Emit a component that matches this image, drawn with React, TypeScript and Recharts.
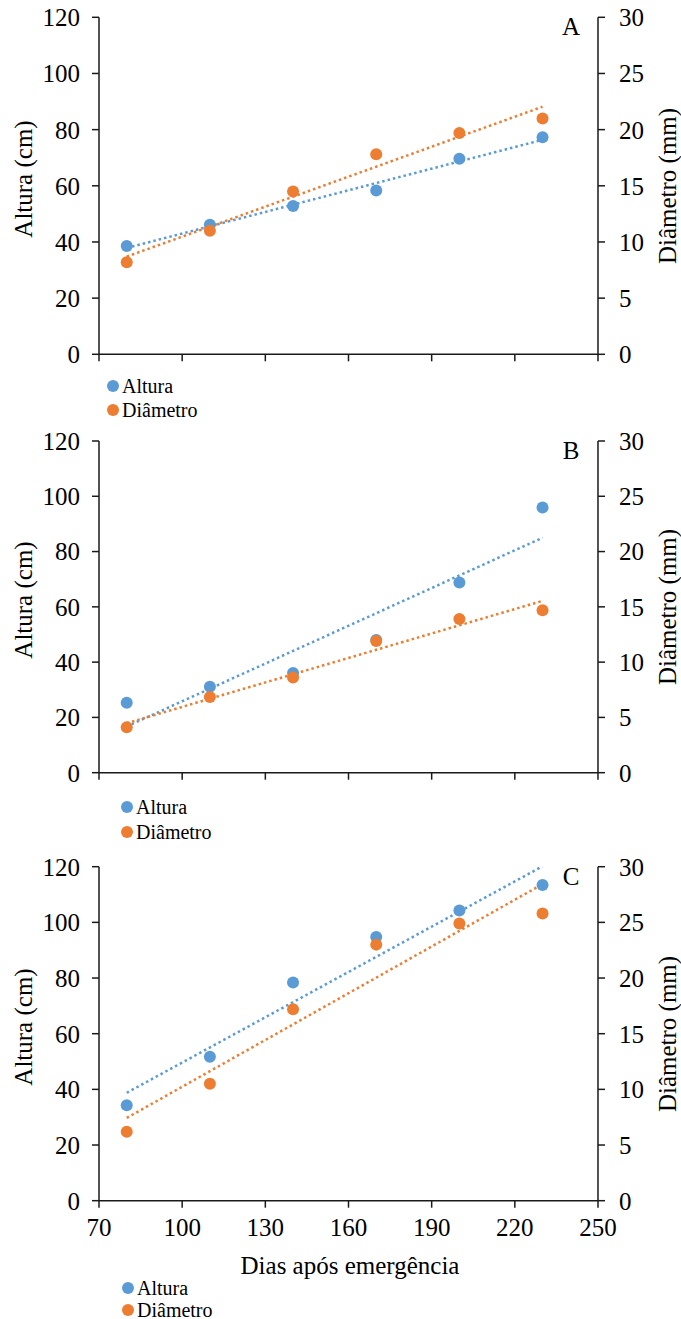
import React from 'react';
import { ScatterChart, Scatter, XAxis, YAxis, ReferenceLine } from 'recharts';

// Dias após emergência (eixo X)
const dias = [80, 110, 140, 170, 200, 230];
const xTicks = [70, 100, 130, 160, 190, 220, 250];
const alturaTicks = [0, 20, 40, 60, 80, 100, 120];
const diametroTicks = [0, 5, 10, 15, 20, 25, 30];

// Altura (cm)
const alturaA = [38.6, 46.1, 52.8, 58.3, 69.6, 77.3];
const alturaB = [25.3, 31.1, 36.1, 48.0, 68.8, 95.9];
const alturaC = [34.3, 51.7, 78.4, 94.7, 104.3, 113.4];

// Diâmetro (mm)
const diametroA = [8.2, 11.0, 14.5, 17.8, 19.7, 21.0];
const diametroB = [4.1, 6.85, 8.6, 11.9, 13.9, 14.7];
const diametroC = [6.2, 10.5, 17.2, 23.0, 24.9, 25.8];

const serif = "'Liberation Serif', 'Times New Roman', serif";
const azul = '#5B9BD5';
const laranja = '#ED7D31';
const eixo = '#1a1a1a';

// linha de tendência linear (mínimos quadrados), como no Excel
function tendencia(xs: number[], ys: number[]) {
  const n = xs.length;
  const mx = xs.reduce((s, v) => s + v, 0) / n;
  const my = ys.reduce((s, v) => s + v, 0) / n;
  let sxy = 0;
  let sxx = 0;
  xs.forEach((x, i) => {
    sxy += (x - mx) * (ys[i] - my);
    sxx += (x - mx) * (x - mx);
  });
  const b = sxy / sxx;
  const a = my - b * mx;
  return [
    { x: xs[0], y: a + b * xs[0] },
    { x: xs[n - 1], y: a + b * xs[n - 1] },
  ];
}

const Bolinha = (cor: string) => (p: any) => <circle cx={p.cx} cy={p.cy} r={6} fill={cor} />;

interface PainelProps {
  letra: string;
  altura: number[];
  diametro: number[];
  top: number;
  plotTop: number;
  plotBottom: number;
  rotulosX: boolean;
  legendaX: number;
  legendaY: number;
  legendaPasso: number;
}

const tickStyle = { fill: '#000', fontSize: 25, fontFamily: serif };

const Painel: React.FC<PainelProps> = ({
  letra,
  altura,
  diametro,
  top,
  plotTop,
  plotBottom,
  rotulosX,
  legendaX,
  legendaY,
  legendaPasso,
}) => {
  const alturaPts = dias.map((dia, i) => ({ dia, altura: altura[i] }));
  const diametroPts = dias.map((dia, i) => ({ dia, diametro: diametro[i] }));
  const xAxisH = 45;
  const height = plotBottom - top + xAxisH;
  const meio = (plotTop + plotBottom) / 2;

  return (
    <>
      <div style={{ position: 'absolute', left: 0, top, width: 681, height, fontFamily: serif }}>
        <ScatterChart
          width={681}
          height={height}
          margin={{ top: plotTop - top, right: 0, bottom: 0, left: 0 }}
        >
          <XAxis
            type="number"
            dataKey="dia"
            domain={[70, 250]}
            ticks={xTicks}
            interval={0}
            allowDataOverflow
            height={xAxisH}
            tickSize={7}
            tickMargin={11}
            stroke={eixo}
            strokeWidth={1.5}
            tick={tickStyle}
            tickFormatter={rotulosX ? undefined : () => ''}
          />
          <YAxis
            yAxisId="alt"
            dataKey="altura"
            type="number"
            domain={[0, 120]}
            ticks={alturaTicks}
            interval={0}
            allowDataOverflow
            width={99}
            tickSize={7}
            tickMargin={12}
            stroke={eixo}
            strokeWidth={1.5}
            tick={tickStyle}
          />
          <YAxis
            yAxisId="diam"
            dataKey="diametro"
            type="number"
            orientation="right"
            domain={[0, 30]}
            ticks={diametroTicks}
            interval={0}
            allowDataOverflow
            width={83}
            tickSize={7}
            tickMargin={14}
            stroke={eixo}
            strokeWidth={1.5}
            tick={tickStyle}
          />
          <Scatter
            name="Altura"
            yAxisId="alt"
            data={alturaPts}
            dataKey="altura"
            fill={azul}
            shape={Bolinha(azul)}
            isAnimationActive={false}
          />
          <Scatter
            name="Diâmetro"
            yAxisId="diam"
            data={diametroPts}
            dataKey="diametro"
            fill={laranja}
            shape={Bolinha(laranja)}
            isAnimationActive={false}
          />
          <ReferenceLine
            yAxisId="alt"
            segment={tendencia(dias, altura)}
            stroke={azul}
            strokeWidth={2.5}
            strokeDasharray="2.5 3"
            ifOverflow="hidden"
          />
          <ReferenceLine
            yAxisId="diam"
            segment={tendencia(dias, diametro)}
            stroke={laranja}
            strokeWidth={2.5}
            strokeDasharray="2.5 3"
            ifOverflow="hidden"
          />
        </ScatterChart>
      </div>

      {/* títulos dos eixos Y */}
      <div
        style={{
          position: 'absolute',
          left: 24,
          top: meio - 7,
          transform: 'translate(-50%, -50%) rotate(-90deg)',
          whiteSpace: 'nowrap',
          fontFamily: serif,
          fontSize: 25,
          color: '#000',
        }}
      >
        Altura (cm)
      </div>
      <div
        style={{
          position: 'absolute',
          left: 668,
          top: meio,
          transform: 'translate(-50%, -50%) rotate(-90deg)',
          whiteSpace: 'nowrap',
          fontFamily: serif,
          fontSize: 25,
          color: '#000',
        }}
      >
        Diâmetro (mm)
      </div>

      {/* letra do painel */}
      <div
        style={{
          position: 'absolute',
          left: 571,
          top: plotTop + 10,
          transform: 'translate(-50%, -50%)',
          fontFamily: serif,
          fontSize: 25,
          color: '#000',
        }}
      >
        {letra}
      </div>

      {/* legenda */}
      <div
        style={{
          position: 'absolute',
          left: legendaX - 6,
          top: legendaY - legendaPasso / 2,
          fontFamily: serif,
          fontSize: 20,
          lineHeight: 1,
          color: '#000',
        }}
      >
        {[
          { nome: 'Altura', cor: azul },
          { nome: 'Diâmetro', cor: laranja },
        ].map((item) => (
          <div key={item.nome} style={{ display: 'flex', alignItems: 'center', height: legendaPasso }}>
            <span
              style={{
                display: 'inline-block',
                width: 12,
                height: 12,
                borderRadius: '50%',
                background: item.cor,
                marginRight: 3,
              }}
            />
            {item.nome}
          </div>
        ))}
      </div>
    </>
  );
};

export default function App() {
  return (
    <div style={{ position: 'absolute', left: 0, top: 0, width: 681, height: 1319, background: '#fff', fontFamily: serif }}>
      <Painel letra="A" altura={alturaA} diametro={diametroA} top={0} plotTop={17.3} plotBottom={354.3} rotulosX={false} legendaX={113} legendaY={386} legendaPasso={24} />
      <Painel letra="B" altura={alturaB} diametro={diametroB} top={425} plotTop={441} plotBottom={772.7} rotulosX={false} legendaX={127} legendaY={807} legendaPasso={25} />
      <Painel letra="C" altura={alturaC} diametro={diametroC} top={850} plotTop={866.7} plotBottom={1200.7} rotulosX={true} legendaX={128} legendaY={1288} legendaPasso={22} />
      <div
        style={{
          position: 'absolute',
          left: 350,
          top: 1266,
          transform: 'translate(-50%, -50%)',
          whiteSpace: 'nowrap',
          fontFamily: serif,
          fontSize: 25,
          color: '#000',
        }}
      >
        Dias após emergência
      </div>
    </div>
  );
}
